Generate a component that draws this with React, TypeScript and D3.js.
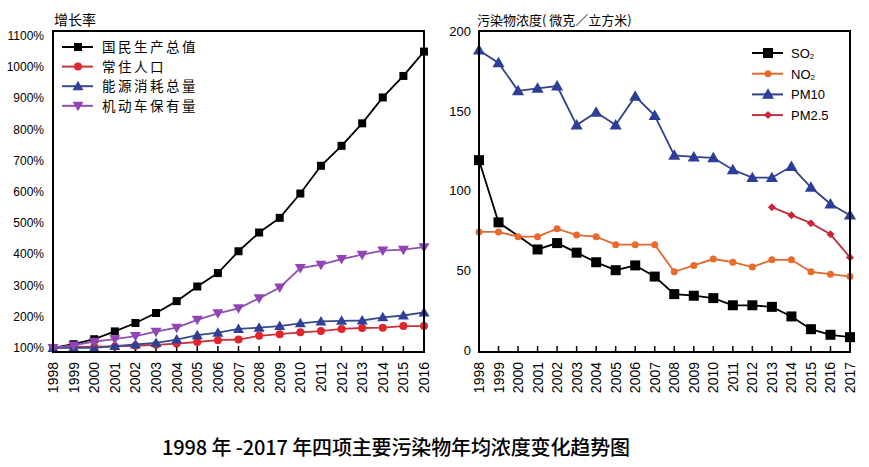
import React from "react";
import * as d3 from "d3";

const leftYears = d3.range(1998, 2017);
const rightYears = d3.range(1998, 2018);

const gdp = [100, 112, 128, 153, 180, 212, 250, 297, 340, 410, 470, 517, 595, 684, 748, 820, 903, 972, 1050];
const population = [100, 103, 104, 105, 107, 110, 114, 119, 125, 127, 139, 144, 150, 154, 161, 164, 165, 170, 170];
const energy = [100, 101, 100, 106, 111, 116, 127, 141, 149, 161, 165, 170, 179, 185, 187, 188, 198, 204, 214];
const vehicles = [100, 108, 120, 128, 138, 152, 165, 190, 211, 227, 259, 294, 356, 367, 385, 399, 412, 415, 423];

const so2: (number | null)[] = [119, 80, null, 63, 67, 61, 55, 50, 53, 46, 35, 34, 32.5, 28, 28, 27, 21, 13, 9.5, 8];
const no2: (number | null)[] = [74, 74, 71, 71, 76, 72, 71, 66, 66, 66, 49, 53, 57, 55, 52, 56.5, 56.5, 49, 47.5, 46];
const pm10: (number | null)[] = [188, 180, 162.5, 164, 165.5, 141, 149, 141, 159, 147, 122, 121, 120.5, 113, 108, 108, 115, 102, 91.5, 84.5];
const pm25: (number | null)[] = [null, null, null, null, null, null, null, null, null, null, null, null, null, null, null, 89.5, 84.5, 79.5, 72.5, 58];

const leftTicks = [100, 200, 300, 400, 500, 600, 700, 800, 900, 1000, 1100];
const rightTicks = [0, 50, 100, 150, 200];

const leftNames = ["国民生产总值", "常住人口", "能源消耗总量", "机动车保有量"];
const rightNames = [["SO", "2"], ["NO", "2"], ["PM10", ""], ["PM2.5", ""]];

const LAT = "Liberation Sans, Arial, sans-serif";
const CJK = "Noto Sans CJK SC, sans-serif";

type Shape = "square" | "circle" | "up" | "down" | "diamond";

function Marker({ shape, x, y, size, color }: { shape: Shape; x: number; y: number; size: number; color: string }) {
  const h = size / 2;
  if (shape === "square") return <rect x={x - h} y={y - h} width={size} height={size} fill={color} />;
  if (shape === "circle") return <circle cx={x} cy={y} r={h} fill={color} />;
  if (shape === "up")
    return <path d={`M${x},${y - h * 1.1}L${x + h * 1.1},${y + h * 0.8}L${x - h * 1.1},${y + h * 0.8}Z`} fill={color} />;
  if (shape === "down")
    return <path d={`M${x},${y + h * 1.1}L${x + h * 1.1},${y - h * 0.8}L${x - h * 1.1},${y - h * 0.8}Z`} fill={color} />;
  return <path d={`M${x},${y - h}L${x + h},${y}L${x},${y + h}L${x - h},${y}Z`} fill={color} />;
}

function Series({ years, values, x, y, color, lineColor, shape, size }: any) {
  const pts = years
    .map((yr: number, i: number) => [yr, values[i]])
    .filter((p: any) => p[1] !== null && p[1] !== undefined);
  const line = d3
    .line<any>()
    .x((p) => x(p[0]))
    .y((p) => y(p[1]));
  return (
    <g>
      <path d={line(pts) || ""} fill="none" stroke={lineColor} strokeWidth={1.8} />
      {pts.map((p: any, i: number) => (
        <Marker key={i} shape={shape} x={x(p[0])} y={y(p[1])} size={size} color={color} />
      ))}
    </g>
  );
}

export default function App() {
  const W = 869, H = 467;
  const lx = d3.scaleLinear().domain([1998, 2016]).range([53, 424]);
  const ly = d3.scaleLinear().domain([87, 1116]).range([352, 31]);
  const rx = d3.scaleLinear().domain([1998, 2017]).range([479, 850]);
  const ry = d3.scaleLinear().domain([-1.3, 200]).range([352, 31]);

  const leftSeries = [
    { values: gdp, color: "#000000", lineColor: "#000000", shape: "square", size: 8 },
    { values: population, color: "#e0252d", lineColor: "#c5343b", shape: "circle", size: 8 },
    { values: energy, color: "#2f4096", lineColor: "#3a4a8e", shape: "up", size: 10 },
    { values: vehicles, color: "#9244b4", lineColor: "#8d52ad", shape: "down", size: 10 },
  ];
  const rightSeries = [
    { values: so2, color: "#000000", lineColor: "#000000", shape: "square", size: 10 },
    { values: no2, color: "#ea6a2c", lineColor: "#e0692f", shape: "circle", size: 7 },
    { values: pm10, color: "#2b3f99", lineColor: "#34418a", shape: "up", size: 11 },
    { values: pm25, color: "#cc2335", lineColor: "#c0303f", shape: "diamond", size: 8 },
  ];

  return (
    <svg width={W} height={H} style={{ display: "block", position: "absolute", left: 0, top: 0, background: "#fff" }}>
      <rect width={W} height={H} fill="#fff" />
      {/* Left chart */}
      <text x={54} y={25} fontFamily={CJK} fontSize={14} fill="#000">增长率</text>
      {leftTicks.map((t) => (
        <text key={t} x={44} y={ly(t) + 4} textAnchor="end" fontFamily={LAT} fontSize={12} fill="#000">
          {t}%
        </text>
      ))}
      {leftYears.map((yr) => (
        <g key={yr}>
          <line x1={lx(yr)} x2={lx(yr)} y1={352} y2={346} stroke="#000" strokeWidth={1.5} />
          <text
            transform={`translate(${lx(yr) + 5},362) rotate(-90)`}
            textAnchor="end"
            fontFamily={LAT}
            fontSize={14}
            fill="#000"
          >
            {yr}
          </text>
        </g>
      ))}
      {leftSeries.map((s, i) => (
        <Series key={i} years={leftYears} x={lx} y={ly} {...s} />
      ))}
      <rect x={53} y={31} width={371} height={321} fill="none" stroke="#000" strokeWidth={2} />
      {leftNames.map((n, i) => {
        const yy = 47 + i * 19.6;
        const s = leftSeries[i];
        return (
          <g key={n}>
            <line x1={62} x2={93} y1={yy} y2={yy} stroke={s.lineColor} strokeWidth={2} />
            <Marker shape={s.shape as Shape} x={78} y={yy} size={s.size} color={s.color} />
            <text x={102} y={yy + 5} fontFamily={CJK} fontSize={13.5} letterSpacing={2.5} fill="#000">{n}</text>
          </g>
        );
      })}

      {/* Right chart */}
      <text x={477} y={25} fontFamily={CJK} fontSize={13} fill="#000" style={{ whiteSpace: "pre" }}>
        {"污染物浓度(\u00a0微克／立方米)"}
      </text>
      {rightTicks.map((t) => (
        <text key={t} x={471} y={ry(t) + 5} textAnchor="end" fontFamily={LAT} fontSize={13} fill="#000">
          {t}
        </text>
      ))}
      {rightYears.map((yr) => (
        <g key={yr}>
          <line x1={rx(yr)} x2={rx(yr)} y1={352} y2={346} stroke="#000" strokeWidth={1.5} />
          <text
            transform={`translate(${rx(yr) + 5},362) rotate(-90)`}
            textAnchor="end"
            fontFamily={LAT}
            fontSize={14}
            fill="#000"
          >
            {yr}
          </text>
        </g>
      ))}
      {rightSeries.map((s, i) => (
        <Series key={i} years={rightYears} x={rx} y={ry} {...s} />
      ))}
      <rect x={479} y={31} width={371} height={321} fill="none" stroke="#000" strokeWidth={2} />
      {rightNames.map((n, i) => {
        const yy = 53 + i * 20.7;
        const s = rightSeries[i];
        return (
          <g key={i}>
            <line x1={752} x2={783} y1={yy} y2={yy} stroke={s.lineColor} strokeWidth={2} />
            <Marker shape={s.shape as Shape} x={768} y={yy} size={s.size} color={s.color} />
            <text x={791} y={yy + 5} fontFamily={LAT} fontSize={13} fill="#000">
              {n[0]}
              {n[1] && (
                <tspan fontSize={8} dy={1}>
                  {n[1]}
                </tspan>
              )}
            </text>
          </g>
        );
      })}

      {/* Title */}
      <text x={162} y={455} fontFamily={CJK} fontSize={20} fontWeight={500} fill="#000" textLength={468} lengthAdjust="spacing">
        1998 年 -2017 年四项主要污染物年均浓度变化趋势图
      </text>
    </svg>
  );
}
